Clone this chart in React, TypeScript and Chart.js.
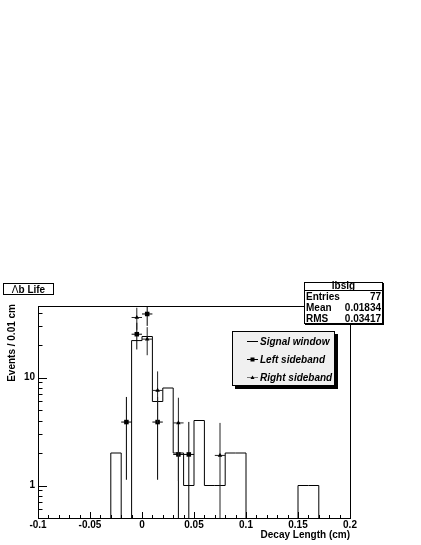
import React, { useEffect, useRef } from 'react';
import { Chart, registerables } from 'chart.js';
Chart.register(...registerables);

// ---- data ----
const binLow = -0.03;
const binWidth = 0.01;
const signalCounts = [2, 0, 22, 24, 6, 8, 2, 1, 4, 1, 1, 2, 2, 0, 0, 0, 0, 0, 1, 1];

const leftX = [-0.015, -0.005, 0.005, 0.015, 0.035, 0.045];
const leftY = [3.87, 25.2, 38.8, 3.87, 1.94, 1.94];
const leftErr = [2.74, 7.0, 8.7, 2.74, 1.94, 1.94];

const rightX = [-0.005, 0.005, 0.015, 0.035, 0.075];
const rightY = [36.0, 22.7, 7.6, 3.8, 1.9];
const rightErr = [8.3, 6.6, 3.8, 2.7, 1.9];

const xMin = -0.1;
const xMax = 0.2;
const yMin = 0.5;
const yMax = 46;
const xTickValues = [-0.1, -0.05, 0, 0.05, 0.1, 0.15, 0.2];
const yTickValues = [1, 10];
const yMinorValues = [0.5, 0.6, 0.7, 0.8, 0.9, 2, 3, 4, 5, 6, 7, 8, 9, 20, 30, 40];

const histTitle = 'b Life';
const histTitleSymbol = 'Λ';
const statsName = 'lbsig';
const statsLabels = ['Entries', 'Mean', 'RMS'];
const statsValues = ['77', '0.01834', '0.03417'];
const legendLabels = ['Signal window', 'Left sideband', 'Right sideband'];
const xTitle = 'Decay Length (cm)';
const yTitle = 'Events / 0.01 cm';

const FLOOR = 0.3;
const FONT = '"Liberation Sans", Arial, Helvetica, sans-serif';

function histPoints() {
  const pts: { x: number; y: number }[] = [{ x: xMin, y: FLOOR }];
  signalCounts.forEach((c, i) => pts.push({ x: binLow + i * binWidth, y: c > 0 ? c : FLOOR }));
  pts.push({ x: binLow + signalCounts.length * binWidth, y: FLOOR });
  pts.push({ x: xMax, y: FLOOR });
  return pts;
}

function errorSegments(xs: number[], ys: number[], es: number[]) {
  const d: { x: number; y: number | null }[] = [];
  xs.forEach((x, i) => {
    const lo = Math.max(ys[i] - es[i], FLOOR);
    d.push({ x, y: lo }, { x, y: ys[i] + es[i] }, { x, y: null });
    d.push({ x: x - binWidth / 2, y: ys[i] }, { x: x + binWidth / 2, y: ys[i] }, { x, y: null });
  });
  return d;
}

const overlayPlugin = {
  id: 'rootOverlay',
  afterDraw(chart: any) {
    const { ctx, chartArea: a, scales } = chart;
    const xs = scales.x;
    const ys = scales.y;
    ctx.save();
    ctx.strokeStyle = '#000';
    ctx.fillStyle = '#000';
    ctx.lineWidth = 1;

    // ticks (inward)
    ctx.beginPath();
    for (let i = 0; i <= 30; i++) {
      const v = xMin + i * 0.01;
      const px = Math.round(xs.getPixelForValue(v)) + 0.5;
      const len = i % 5 === 0 ? 6 : 3;
      ctx.moveTo(px, a.bottom);
      ctx.lineTo(px, a.bottom - len);
    }
    yTickValues.forEach((v) => {
      const py = Math.round(ys.getPixelForValue(v)) + 0.5;
      ctx.moveTo(a.left, py);
      ctx.lineTo(a.left + 9, py);
    });
    yMinorValues.forEach((v) => {
      const py = Math.round(ys.getPixelForValue(v)) + 0.5;
      ctx.moveTo(a.left, py);
      ctx.lineTo(a.left + 4.5, py);
    });
    ctx.stroke();

    // frame
    ctx.strokeRect(a.left + 0.5, a.top + 0.5, a.right - a.left, a.bottom - a.top);

    // axis titles
    ctx.font = `bold 10px ${FONT}`;
    ctx.textAlign = 'right';
    ctx.textBaseline = 'alphabetic';
    ctx.fillText(xTitle, a.right, 538);
    ctx.save();
    ctx.translate(15, a.top - 2);
    ctx.rotate(-Math.PI / 2);
    ctx.fillText(yTitle, 0, 0);
    ctx.restore();

    // title box
    ctx.fillStyle = '#000';
    ctx.fillRect(4, 284, 50, 11);
    ctx.fillStyle = '#fff';
    ctx.fillRect(3, 283, 50, 11);
    ctx.strokeRect(3.5, 283.5, 50, 11);
    ctx.fillStyle = '#000';
    ctx.font = `10px ${FONT}`;
    const symW = ctx.measureText(histTitleSymbol).width;
    ctx.font = `bold 10px ${FONT}`;
    const tW = ctx.measureText(histTitle).width;
    const startX = 28.5 - (symW + tW) / 2;
    ctx.textAlign = 'left';
    ctx.font = `10px ${FONT}`;
    ctx.fillText(histTitleSymbol, startX, 292.5);
    ctx.font = `bold 10px ${FONT}`;
    ctx.fillText(histTitle, startX + symW, 292.5);

    // stats box
    const sx0 = 304, sx1 = 382, sy0 = 282, sy1 = 323;
    ctx.fillStyle = '#000';
    ctx.fillRect(sx0 + 1, sy0 + 1, sx1 - sx0 + 1, sy1 - sy0 + 1);
    ctx.fillStyle = '#fff';
    ctx.fillRect(sx0, sy0, sx1 - sx0, sy1 - sy0);
    ctx.strokeRect(sx0 + 0.5, sy0 + 0.5, sx1 - sx0, sy1 - sy0);
    ctx.beginPath();
    ctx.moveTo(sx0, 290.5);
    ctx.lineTo(sx1, 290.5);
    ctx.stroke();
    ctx.fillStyle = '#000';
    ctx.font = `bold 10px ${FONT}`;
    ctx.textAlign = 'center';
    ctx.fillText(statsName, (sx0 + sx1) / 2 + 0.5, 289);
    statsLabels.forEach((lab, i) => {
      const by = 299.5 + i * 11;
      ctx.textAlign = 'left';
      ctx.fillText(lab, 306, by);
      ctx.textAlign = 'right';
      ctx.fillText(statsValues[i], 381, by);
    });

    // legend
    const lx0 = 232, lx1 = 334, ly0 = 331, ly1 = 385;
    ctx.fillStyle = '#000';
    ctx.fillRect(lx0 + 3, ly0 + 3, lx1 - lx0 + 1, ly1 - ly0 + 1);
    ctx.fillStyle = '#f0f0f0';
    ctx.fillRect(lx0, ly0, lx1 - lx0, ly1 - ly0);
    ctx.strokeRect(lx0 + 0.5, ly0 + 0.5, lx1 - lx0, ly1 - ly0);
    const rowY = [341, 359, 377];
    const lineColors = ['#000', '#000', '#777'];
    rowY.forEach((ry, i) => {
      ctx.strokeStyle = lineColors[i];
      ctx.beginPath();
      ctx.moveTo(247, ry + 0.5);
      ctx.lineTo(258, ry + 0.5);
      ctx.stroke();
      ctx.fillStyle = '#000';
      if (i === 1) ctx.fillRect(250.5, ry - 1.5, 4, 4);
      if (i === 2) {
        ctx.beginPath();
        ctx.moveTo(252.5, ry - 1.5);
        ctx.lineTo(254.5, ry + 2);
        ctx.lineTo(250.5, ry + 2);
        ctx.closePath();
        ctx.fill();
      }
      ctx.font = `italic bold 10px ${FONT}`;
      ctx.textAlign = 'left';
      ctx.fillText(legendLabels[i], 260, ry + 3.5);
    });
    ctx.restore();
  },
};

export default function App() {
  const ref = useRef<HTMLCanvasElement>(null);
  useEffect(() => {
    document.body.style.margin = '0';
    const tickFont = { family: FONT, size: 10, weight: 'bold' as const };
    const chart = new Chart(ref.current as HTMLCanvasElement, {
      type: 'line',
      data: {
        datasets: [
          {
            data: histPoints() as any,
            stepped: true,
            borderColor: '#000',
            borderWidth: 1,
            pointRadius: 0,
            fill: false,
            order: 5,
          },
          {
            data: errorSegments(leftX, leftY, leftErr) as any,
            borderColor: '#000',
            borderWidth: 1,
            pointRadius: 0,
            spanGaps: false,
            order: 4,
          },
          {
            data: leftX.map((x, i) => ({ x, y: leftY[i] })) as any,
            showLine: false,
            pointStyle: 'rect',
            pointRadius: 3.2,
            pointBackgroundColor: '#000',
            pointBorderWidth: 0,
            order: 3,
          },
          {
            data: errorSegments(rightX, rightY, rightErr) as any,
            borderColor: '#222',
            borderWidth: 1,
            pointRadius: 0,
            spanGaps: false,
            order: 2,
          },
          {
            data: rightX.map((x, i) => ({ x, y: rightY[i] })) as any,
            showLine: false,
            pointStyle: 'triangle',
            pointRadius: 2.6,
            pointBackgroundColor: '#000',
            pointBorderWidth: 0,
            order: 1,
          },
        ],
      },
      options: {
        animation: false,
        responsive: false,
        devicePixelRatio: 1,
        layout: { padding: { top: 306, right: 71, left: 0, bottom: 0 } },
        plugins: { legend: { display: false }, tooltip: { enabled: false }, title: { display: false } },
        scales: {
          x: {
            type: 'linear',
            min: xMin,
            max: xMax,
            afterBuildTicks: (s: any) => {
              s.ticks = xTickValues.map((v) => ({ value: v }));
            },
            afterFit: (s: any) => {
              s.height = 27;
            },
            grid: { display: false, drawTicks: false },
            border: { display: false },
            ticks: {
              font: tickFont,
              color: '#000',
              padding: 1,
              maxRotation: 0,
              autoSkip: false,
              callback: (v: any) => String(v),
            },
          },
          y: {
            type: 'logarithmic',
            min: yMin,
            max: yMax,
            afterBuildTicks: (s: any) => {
              s.ticks = yTickValues.map((v) => ({ value: v }));
            },
            afterFit: (s: any) => {
              s.width = 38;
            },
            grid: { display: false, drawTicks: false },
            border: { display: false },
            ticks: {
              font: tickFont,
              color: '#000',
              padding: 3,
              autoSkip: false,
              callback: (v: any) => String(v),
            },
          },
        },
      },
      plugins: [overlayPlugin],
    });
    return () => chart.destroy();
  }, []);
  return (
    <canvas
      ref={ref}
      width={421}
      height={545}
      style={{ display: 'block', position: 'absolute', left: 0, top: 0, width: 421, height: 545 }}
    />
  );
}
